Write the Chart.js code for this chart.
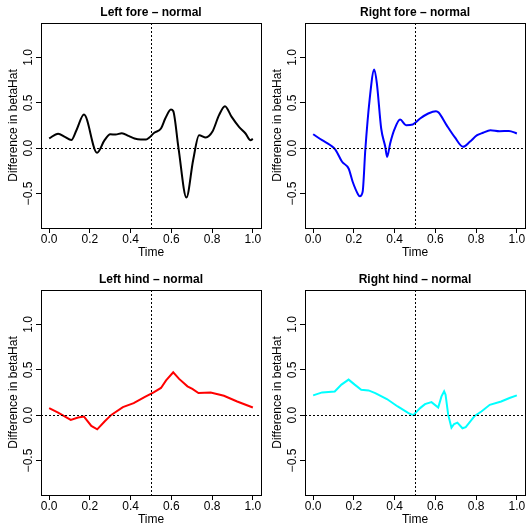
<!DOCTYPE html>
<html><head><meta charset="utf-8">
<script src="https://cdn.jsdelivr.net/npm/chart.js@4/dist/chart.umd.min.js"></script>
<style>
html,body{margin:0;padding:0;background:#fff;}
.p{position:absolute;width:264px;height:259px;}
</style></head><body>
<div class="p" style="left:0;top:0"><canvas id="c1" width="264" height="259"></canvas></div>
<div class="p" style="left:264px;top:0"><canvas id="c2" width="264" height="259"></canvas></div>
<div class="p" style="left:0;top:267px"><canvas id="c3" width="264" height="259"></canvas></div>
<div class="p" style="left:264px;top:267px"><canvas id="c4" width="264" height="259"></canvas></div>
<script>
// ---- data ----
const xTicks = [0, 0.2, 0.4, 0.6, 0.8, 1.0];
const yTicks = [-0.5, 0, 0.5, 1.0];
const refTime = 0.5;
const refValue = 0;
const xLabel = "Time";
const yLabel = "Difference in betaHat";

const leftForeTime = [0, 0.044, 0.077, 0.109, 0.134, 0.171, 0.235, 0.272, 0.30, 0.326, 0.357, 0.39, 0.419, 0.45, 0.476, 0.492, 0.516, 0.549, 0.570, 0.598, 0.609, 0.635, 0.674, 0.707, 0.736, 0.769, 0.801, 0.834, 0.863, 0.896, 0.932, 0.964, 0.989, 1.0];
const leftForeDiff = [0.107, 0.16, 0.125, 0.09, 0.198, 0.37, -0.05, 0.088, 0.154, 0.15, 0.165, 0.135, 0.107, 0.096, 0.096, 0.118, 0.17, 0.217, 0.327, 0.426, 0.41, 0.0, -0.544, -0.13, 0.143, 0.118, 0.18, 0.364, 0.463, 0.345, 0.235, 0.162, 0.088, 0.103];

const rightForeTime = [0, 0.044, 0.085, 0.109, 0.142, 0.174, 0.194, 0.22, 0.229, 0.243, 0.256, 0.277, 0.300, 0.313, 0.334, 0.354, 0.363, 0.378, 0.399, 0.427, 0.456, 0.489, 0.525, 0.565, 0.603, 0.616, 0.655, 0.696, 0.736, 0.769, 0.805, 0.834, 0.870, 0.915, 0.961, 1.0];
const rightForeDiff = [0.154, 0.088, 0.033, -0.015, -0.15, -0.224, -0.37, -0.507, -0.53, -0.48, -0.02, 0.53, 0.868, 0.71, 0.217, 0.015, -0.096, 0.052, 0.206, 0.316, 0.254, 0.261, 0.327, 0.382, 0.408, 0.393, 0.254, 0.118, 0.015, 0.07, 0.143, 0.17, 0.198, 0.187, 0.19, 0.162];

const leftHindTime = [0, 0.044, 0.106, 0.142, 0.171, 0.207, 0.236, 0.272, 0.305, 0.362, 0.415, 0.468, 0.513, 0.549, 0.574, 0.609, 0.638, 0.679, 0.703, 0.733, 0.793, 0.858, 0.923, 1.0];
const leftHindDiff = [0.078, 0.029, -0.052, -0.026, -0.015, -0.119, -0.156, -0.07, 0.003, 0.089, 0.133, 0.2, 0.251, 0.3, 0.384, 0.473, 0.4, 0.318, 0.289, 0.244, 0.251, 0.214, 0.151, 0.085];

const rightHindTime = [0, 0.044, 0.106, 0.139, 0.174, 0.204, 0.236, 0.272, 0.305, 0.362, 0.415, 0.468, 0.492, 0.525, 0.549, 0.581, 0.614, 0.630, 0.643, 0.650, 0.663, 0.679, 0.692, 0.708, 0.733, 0.749, 0.793, 0.826, 0.867, 0.923, 0.964, 1.0];
const rightHindDiff = [0.218, 0.251, 0.262, 0.337, 0.392, 0.337, 0.281, 0.273, 0.244, 0.178, 0.096, 0.022, 0.0, 0.078, 0.122, 0.144, 0.084, 0.207, 0.262, 0.226, 0.003, -0.138, -0.097, -0.082, -0.144, -0.133, -0.008, 0.04, 0.114, 0.151, 0.189, 0.218];

const panelTitles = ["Left fore \u2013 normal", "Right fore \u2013 normal", "Left hind \u2013 normal", "Right hind \u2013 normal"];
const panelColors = ["#000000", "#0000FF", "#FF0000", "#00FFFF"];

// ---- rendering ----
Chart.defaults.font.family = "'Liberation Sans', Arial, Helvetica, sans-serif";
Chart.defaults.font.size = 12;
Chart.defaults.color = "#000";

const boxPlugin = {
  id: 'rbox',
  afterDatasetsDraw(chart) {
    const {ctx, chartArea: a, scales} = chart;
    ctx.save();
    ctx.strokeStyle = '#000';
    ctx.lineWidth = 1;
    ctx.setLineDash([2, 2]);
    const yp = Math.round(scales.y.getPixelForValue(refValue)) + 0.5;
    const xp = Math.round(scales.x.getPixelForValue(refTime)) + 0.5;
    ctx.beginPath(); ctx.moveTo(a.left, yp); ctx.lineTo(a.right, yp); ctx.stroke();
    ctx.beginPath(); ctx.moveTo(xp, a.top); ctx.lineTo(xp, a.bottom); ctx.stroke();
    ctx.setLineDash([]);
    ctx.strokeRect(Math.round(a.left) + 0.5, Math.round(a.top) + 0.5,
                   Math.round(a.right) - Math.round(a.left), Math.round(a.bottom) - Math.round(a.top));
    ctx.restore();
  }
};

const fmt = v => (v < 0 ? '\u2212' : '') + Math.abs(v).toFixed(1);

function makeChart(id, title, times, diffs, color, smooth) {
  new Chart(document.getElementById(id), {
    type: 'line',
    data: {
      datasets: [{
        data: times.map((t, i) => ({x: t, y: diffs[i]})),
        borderColor: color,
        borderWidth: 2,
        pointRadius: 0,
        fill: false,
        cubicInterpolationMode: smooth ? 'monotone' : 'default',
        tension: 0
      }]
    },
    options: {
      responsive: false,
      animation: false,
      events: [],
      layout: {padding: {left: 0, right: 3, top: 0, bottom: 0}},
      plugins: {
        legend: {display: false},
        tooltip: {enabled: false},
        title: {
          display: true, text: title, fullSize: false,
          font: {size: 12, weight: 'bold'}, color: '#000',
          padding: {top: 5, bottom: 3.6}
        }
      },
      scales: {
        x: {
          type: 'linear', min: -0.04, max: 1.04,
          afterBuildTicks: s => { s.ticks = xTicks.map(v => ({value: v})); },
          afterFit: s => { s.height = 31; },
          ticks: {callback: v => fmt(v), padding: -1, maxRotation: 0, autoSkip: false, color: '#000', font: {size: 12}},
          grid: {drawOnChartArea: false, drawTicks: true, tickLength: 5, color: '#000', lineWidth: 1},
          border: {display: false},
          title: {display: true, text: xLabel, color: '#000', font: {size: 12}, padding: {top: 0, bottom: -1}}
        },
        y: {
          type: 'linear', min: -0.88, max: 1.38,
          afterBuildTicks: s => { s.ticks = yTicks.map(v => ({value: v})); },
          afterFit: s => { s.width = 41; },
          ticks: {callback: v => fmt(v), padding: -5, minRotation: 90, maxRotation: 90, crossAlign: 'center', autoSkip: false, color: '#000', font: {size: 12}},
          grid: {drawOnChartArea: false, drawTicks: true, tickLength: 5, color: '#000', lineWidth: 1},
          border: {display: false},
          title: {display: true, text: yLabel, color: '#000', font: {size: 12}, padding: {top: 6, bottom: 0}}
        }
      }
    },
    plugins: [boxPlugin]
  });
}

makeChart('c1', panelTitles[0], leftForeTime, leftForeDiff, panelColors[0], true);
makeChart('c2', panelTitles[1], rightForeTime, rightForeDiff, panelColors[1], true);
makeChart('c3', panelTitles[2], leftHindTime, leftHindDiff, panelColors[2], false);
makeChart('c4', panelTitles[3], rightHindTime, rightHindDiff, panelColors[3], false);
</script>
</body></html>
